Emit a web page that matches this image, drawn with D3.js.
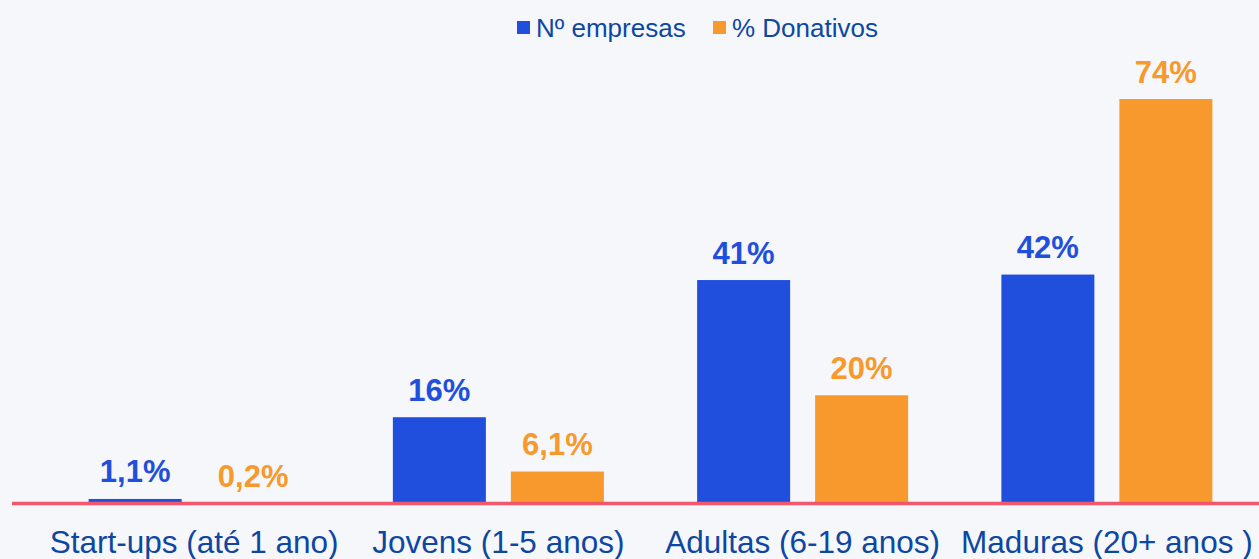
<!DOCTYPE html>
<html>
<head>
<meta charset="utf-8">
<script src="https://cdn.jsdelivr.net/npm/d3@7"></script>
<style>
  body { margin: 0; background: #f5f7fa; }
  svg { display: block; font-family: "Liberation Sans", Arial, sans-serif; }
</style>
</head>
<body>
<svg id="vis"></svg>
<script>
// dados
const categorias = ["Start-ups (até 1 ano)", "Jovens (1-5 anos)", "Adultas (6-19 anos)", "Maduras (20+ anos )"];
const series = ["Nº empresas", "% Donativos"];
const empresas = [1.1, 16, 41, 42];
const donativos = [0.2, 6.1, 20, 74];
const rotulos_empresas = ["1,1%", "16%", "41%", "42%"];
const rotulos_donativos = ["0,2%", "6,1%", "20%", "74%"];

const w = 1259, h = 559;
const cores = {"Nº empresas": "#1f4fdc", "% Donativos": "#f7992c"};
const cor_texto = "#0d47a1";

const $svg = d3.select("#vis").attr("width", w).attr("height", h);

const dados = categorias.map((c, i) => ({
  categoria: c,
  valores: [
    {serie: series[0], valor: empresas[i], rotulo: rotulos_empresas[i]},
    {serie: series[1], valor: donativos[i], rotulo: rotulos_donativos[i]}
  ]
}));

// escalas
const base = 505;
const x0 = d3.scaleBand().domain(categorias).range([42, 1259]).padding(0);
const x1 = d3.scaleBand().domain(series)
  .range([(x0.bandwidth() - 211) / 2, (x0.bandwidth() + 211) / 2])
  .paddingInner(0.2119);
const y = d3.scaleLinear().domain([0, 74]).range([base, 99]);

const grupos = $svg.selectAll("g.grupo")
  .data(dados)
  .join("g")
  .attr("class", "grupo")
  .attr("transform", d => `translate(${x0(d.categoria)},0)`);

grupos.selectAll("rect")
  .data(d => d.valores)
  .join("rect")
  .attr("x", d => x1(d.serie))
  .attr("y", d => y(d.valor))
  .attr("width", x1.bandwidth())
  .attr("height", d => base - y(d.valor))
  .attr("fill", d => cores[d.serie]);

grupos.selectAll("text.rotulo")
  .data(d => d.valores)
  .join("text")
  .attr("class", "rotulo")
  .attr("x", d => x1(d.serie) + x1.bandwidth() / 2)
  .attr("y", d => y(d.valor) - 16.5)
  .attr("text-anchor", "middle")
  .attr("font-size", 31)
  .attr("font-weight", "bold")
  .attr("fill", d => cores[d.serie])
  .text(d => d.rotulo);

// linha de base
$svg.append("line")
  .attr("x1", 12).attr("x2", w)
  .attr("y1", 503.5).attr("y2", 503.5)
  .attr("stroke", "#f2566b")
  .attr("stroke-width", 3.5);

// eixo x (só os rótulos)
const eixo = $svg.append("g")
  .attr("transform", `translate(0,${base})`)
  .call(d3.axisBottom(x0).tickSize(0).tickPadding(0));
eixo.select(".domain").remove();
eixo.selectAll("text")
  .attr("y", 48)
  .attr("dy", 0)
  .attr("font-size", 31.5)
  .attr("font-family", "Liberation Sans, Arial, sans-serif")
  .attr("fill", cor_texto);

// legenda
const legenda = $svg.append("g");
const pos_legenda = [517, 713];
series.forEach((s, i) => {
  legenda.append("rect")
    .attr("x", pos_legenda[i]).attr("y", 21)
    .attr("width", 13).attr("height", 13)
    .attr("fill", cores[s]);
  legenda.append("text")
    .attr("x", pos_legenda[i] + 19).attr("y", 37)
    .attr("font-size", 26)
    .attr("fill", cor_texto)
    .text(s);
});
</script>
</body>
</html>
